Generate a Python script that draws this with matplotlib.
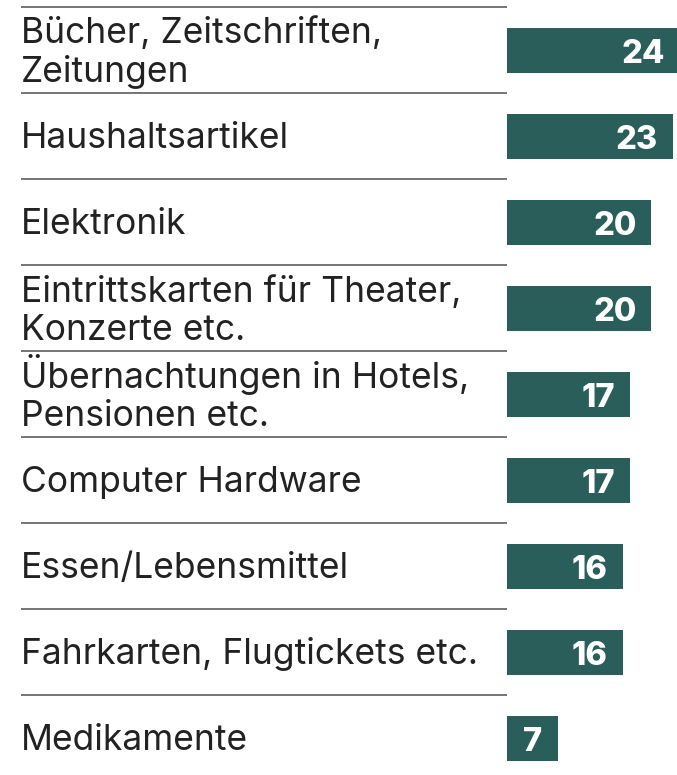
import matplotlib.pyplot as plt
import matplotlib.transforms as mtransforms

labels = ["Bücher, Zeitschriften,\nZeitungen", "Haushaltsartikel", "Elektronik",
          "Eintrittskarten für Theater,\nKonzerte etc.",
          "Übernachtungen in Hotels,\nPensionen etc.", "Computer Hardware",
          "Essen/Lebensmittel", "Fahrkarten, Flugtickets etc.", "Medikamente"]
values = [24, 23, 20, 20, 17, 17, 16, 16, 7]

bar_colour = "#2a5e5a"
text_colour = "#222222"
line_colour = "#6a6a6a"

W, H = 677, 775
fig = plt.figure(figsize=(W / 100, H / 100), dpi=100)
ax = fig.add_axes([0, 0, 1, 1])

px_per_unit = 7.22
bar_x0 = 507
row_h = 86
first_top = 7

ax.set_xlim(-bar_x0 / px_per_unit, (W - bar_x0) / px_per_unit)
top = -0.5 - first_top / row_h
ax.set_ylim(top + H / row_h, top)
ax.axis("off")

ys = list(range(len(values)))
ax.barh(ys, values, height=45 / row_h, color=bar_colour, left=0)

blend = mtransforms.blended_transform_factory(ax.transAxes, ax.transData)
cap = 24      # px, cap height of the labels
pitch = 40    # px, distance between two label lines
for y, lab, v in zip(ys, labels, values):
    n = lab.count("\n") + 1
    shift = -(cap / 2 + (n - 1) * pitch / 2)   # down in pixels
    tr = mtransforms.offset_copy(blend, fig=fig, x=0, y=shift, units="dots")
    ax.text(21 / W, y, lab, transform=tr, ha="left", va="baseline",
            fontsize=25.5, color=text_colour, family="Inter", linespacing=1.2)
    off = mtransforms.offset_copy(ax.transData, fig=fig, x=-15, y=-1, units="dots")
    ax.text(v, y, str(v), transform=off, ha="right", va="center_baseline",
            fontsize=23.5, color="white", fontweight="heavy", family="Inter")

# separator lines: above every row
for y in ys:
    ax.plot([21 / W, bar_x0 / W], [y - 0.5, y - 0.5], transform=blend,
            color=line_colour, lw=1.3, solid_capstyle="butt")

fig.savefig("out.png", dpi=100)
